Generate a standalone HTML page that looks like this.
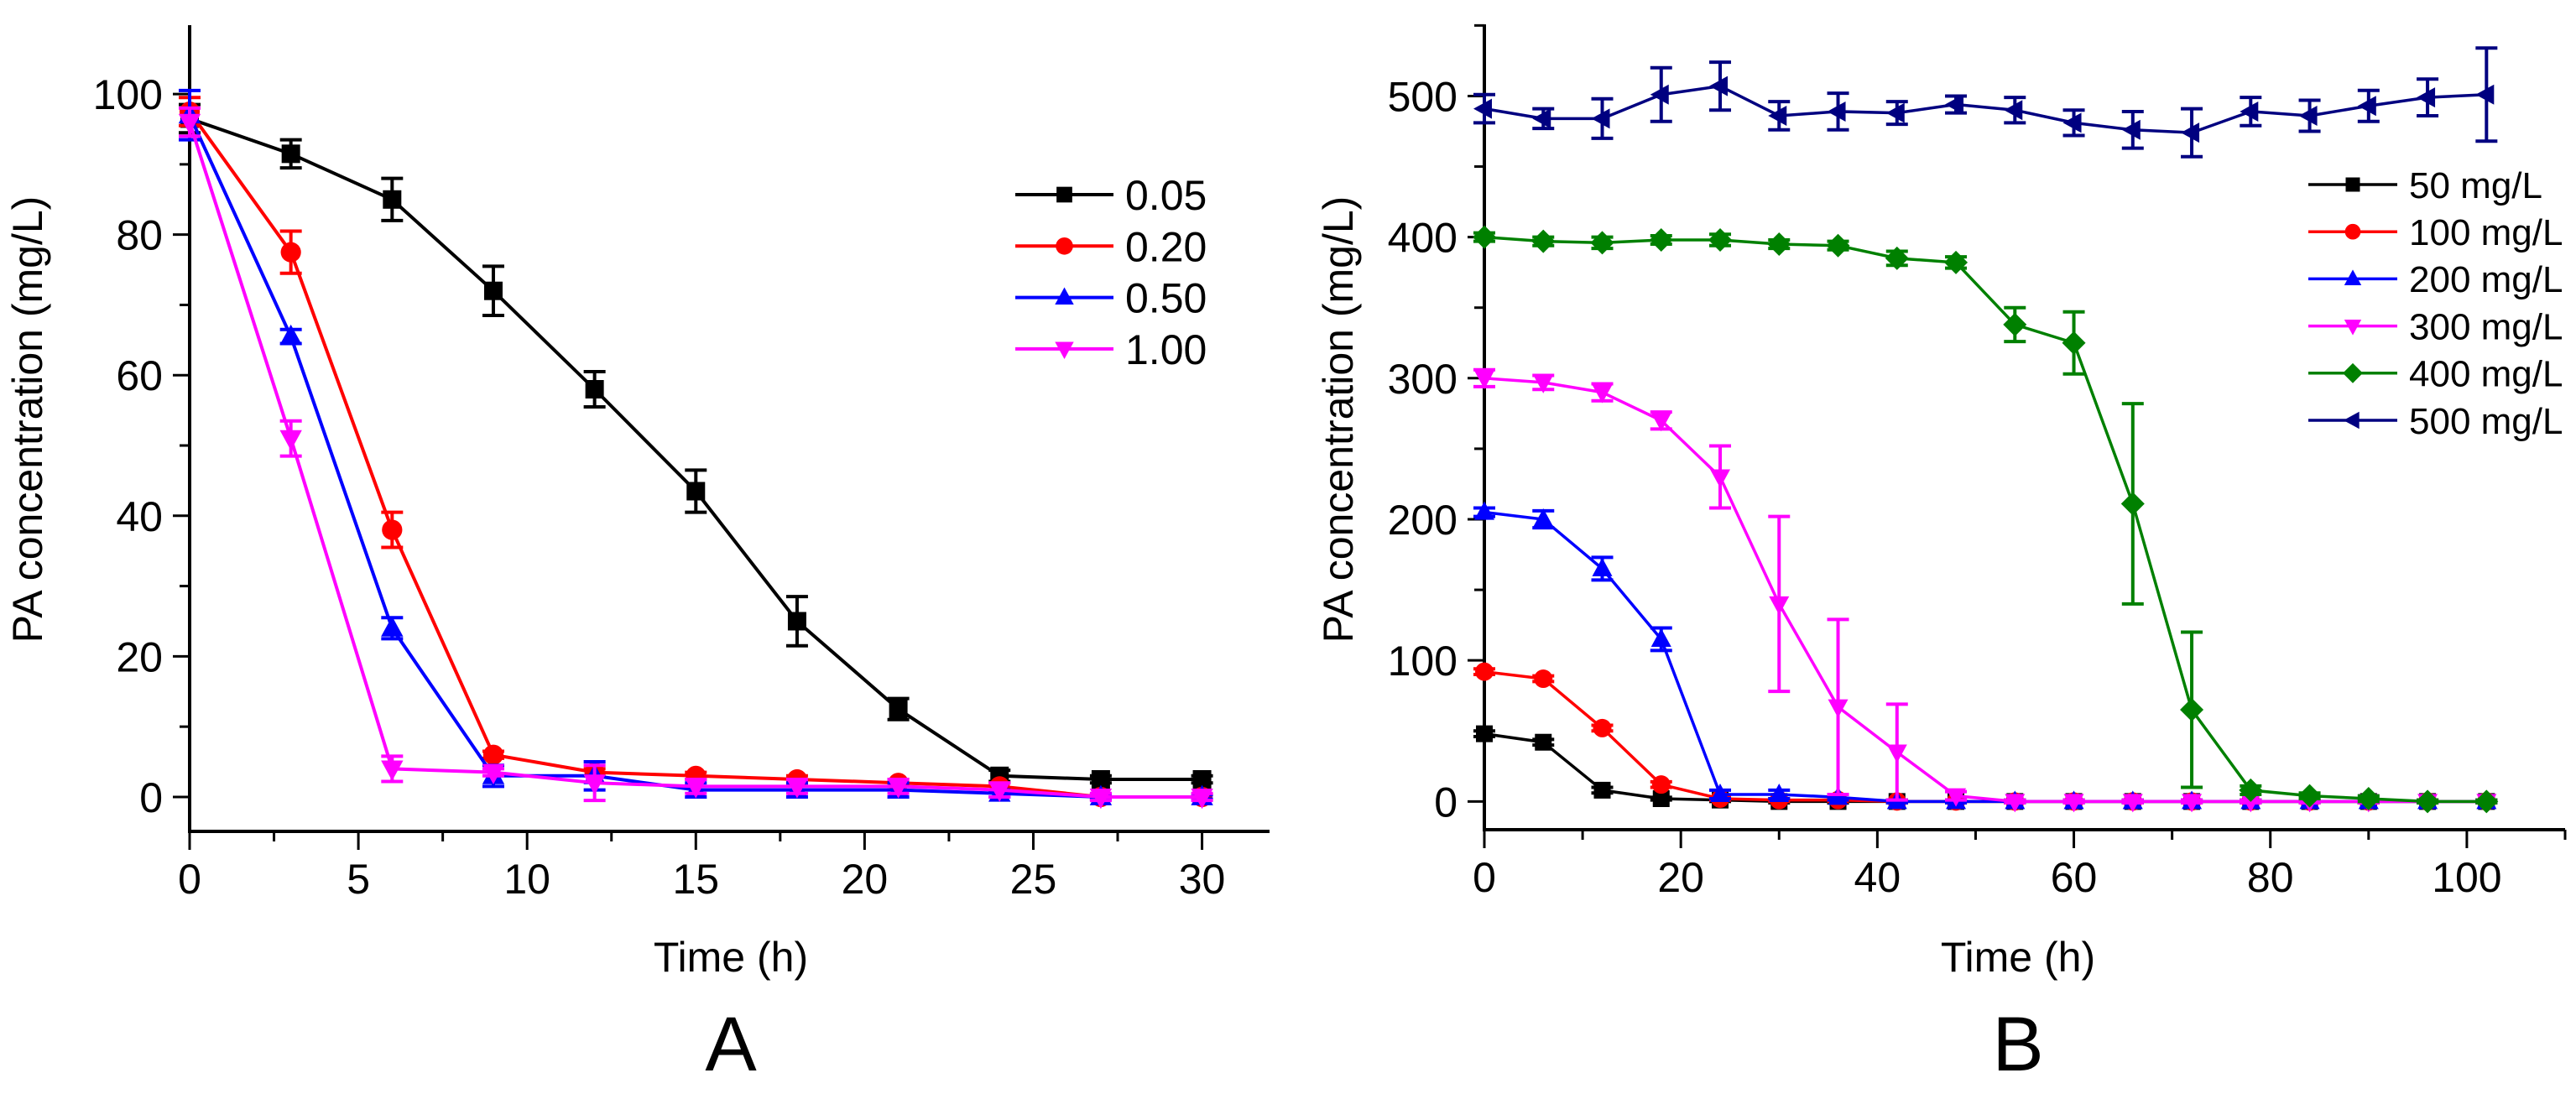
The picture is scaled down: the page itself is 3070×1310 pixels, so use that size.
<!DOCTYPE html>
<html><head><meta charset="utf-8"><style>
html,body{margin:0;padding:0;background:#fff;}
svg{display:block;font-family:"Liberation Sans",Arial,sans-serif;}
</style></head><body>
<svg id="fig" width="3070" height="1310" viewBox="0 0 3070 1310" xmlns="http://www.w3.org/2000/svg">
<g id="chartA"></g>
<g id="chartB"></g>
</svg>
<script>
// ---- Chart A data ----
const timesA = [0,3,6,9,12,15,18,21,24,27,30];
const namesA = ["0.05","0.20","0.50","1.00"];
const valsA005 = [96.5,91.5,85,72,58,43.5,25,12.5,3,2.5,2.5];
const errA005 = [2,2,3,3.5,2.5,3,3.5,1.5,0.8,0.5,0.5];
const valsA020 = [97.5,77.5,38,6,3.5,3,2.5,2,1.5,0,0];
const errA020 = [2,3,2.5,0.5,0.5,0.5,0.5,0.5,0.5,0.3,0.3];
const valsA050 = [97,65.5,24,3,3,1,1,1,0.5,0,0];
const errA050 = [3.5,1,1.5,1.5,2,1,1,1,0.5,0.3,0.3];
const valsA100 = [96,51,4,3.5,2,1.5,1.5,1.5,1,0,0];
const errA100 = [2,2.5,1.8,0.5,2.5,1,1,1,1,0.5,0.5];
const xTicksA = [0,5,10,15,20,25,30];
const yTicksA = [0,20,40,60,80,100];

// ---- Chart B data ----
const timesB = [0,6,12,18,24,30,36,42,48,54,60,66,72,78,84,90,96,102];
const namesB = ["50 mg/L","100 mg/L","200 mg/L","300 mg/L","400 mg/L","500 mg/L"];
const valsB50 = [48,42,8,2,1,0,0,0,0,0,0,0,0,0,0,0,0,0];
const errB50 = [2,2,2,1,1,1,1,1,1,1,1,1,1,1,1,1,1,1];
const valsB100 = [92,87,52,12,2,1,1,0,0,0,0,0,0,0,0,0,0,0];
const errB100 = [2,2,2,2,1,1,1,1,1,1,1,1,1,1,1,1,1,1];
const valsB200 = [205,200,165,115,5,5,3,0,0,0,0,0,0,0,0,0,0,0];
const errB200 = [3,6,8,8,3,3,2,1,1,1,1,1,1,1,1,1,1,1];
const valsB300 = [300,297,290,270,230,140,67,35,4,0,0,0,0,0,0,0,0,0];
const errB300 = [6,5,6,6,22,62,62,34,3,1,1,1,1,1,1,1,1,1];
const valsB400 = [400,397,396,398,398,395,394,385,382,338,325,211,65,8,4,2,0,0];
const errB400 = [3,3,4,3,4,3,3,5,4,12,22,71,55,3,2,2,1,1];
const valsB500 = [491,484,484,501,507,486,489,488,494,490,481,476,474,489,486,493,499,501];
const errB500 = [10,7,14,19,17,10,13,8,6,9,9,13,17,10,11,11,13,33];
const xTicksB = [0,20,40,60,80,100];
const yTicksB = [0,100,200,300,400,500];

const NS = "http://www.w3.org/2000/svg";
function mk(parent, tag, attrs, text){
  const e = document.createElementNS(NS, tag);
  for (const k in attrs) e.setAttribute(k, attrs[k]);
  if (text !== undefined) e.textContent = text;
  parent.appendChild(e);
  return e;
}
function marker(g, type, cx, cy, s, color){
  let e;
  if (type === "square") e = mk(g,"rect",{x:cx-s,y:cy-s,width:2*s,height:2*s,fill:color});
  else if (type === "circle") e = mk(g,"circle",{cx:cx,cy:cy,r:s*1.1,fill:color});
  else if (type === "up") e = mk(g,"polygon",{points:`${cx},${cy-s*1.3} ${cx-s*1.2},${cy+s*0.9} ${cx+s*1.2},${cy+s*0.9}`,fill:color});
  else if (type === "down") e = mk(g,"polygon",{points:`${cx},${cy+s*1.3} ${cx-s*1.2},${cy-s*0.9} ${cx+s*1.2},${cy-s*0.9}`,fill:color});
  else if (type === "diamond") e = mk(g,"polygon",{points:`${cx},${cy-s*1.4} ${cx+s*1.4},${cy} ${cx},${cy+s*1.4} ${cx-s*1.4},${cy}`,fill:color});
  else e = mk(g,"polygon",{points:`${cx-s*1.3},${cy} ${cx+s*0.9},${cy-s*1.2} ${cx+s*0.9},${cy+s*1.2}`,fill:color});
  
  
  return e;
}

function drawChart(root, cfg){
  const X = v => cfg.x0 + (v - cfg.xmin) * (cfg.x1 - cfg.x0) / (cfg.xmax - cfg.xmin);
  const Y = v => cfg.y0 + (v - cfg.ymin) * (cfg.y1 - cfg.y0) / (cfg.ymax - cfg.ymin);
  const ax = mk(root,"g",{});
  
  
  const yl = mk(ax,"line",{x1:cfg.x0,y1:cfg.y0,x2:cfg.x0,y2:cfg.y1,stroke:"#000","stroke-width":4});
  
  
  const xl = mk(ax,"line",{x1:cfg.x0-2,y1:cfg.y0,x2:cfg.x1,y2:cfg.y0,stroke:"#000","stroke-width":4});
  
  
  for (let v = cfg.xmin; v <= cfg.xmax + 1e-9; v += cfg.xminor){
    const major = cfg.xTicks.includes(v);
    mk(ax,"line",{x1:X(v),y1:cfg.y0,x2:X(v),y2:cfg.y0+(major?22:12),stroke:"#000","stroke-width":3});
  }
  cfg.xTicks.forEach(v=>{
    const t = mk(ax,"text",{x:X(v),y:cfg.y0+74,"font-size":cfg.fs,"text-anchor":"middle"},String(v));
    
    
  });
  for (let v = cfg.yTicks[0] - cfg.yminor; v <= cfg.ymax + 1e-9; v += cfg.yminor){
    if (v < cfg.ymin) continue;
    const major = cfg.yTicks.includes(v);
    mk(ax,"line",{x1:cfg.x0,y1:Y(v),x2:cfg.x0-(major?20:12),y2:Y(v),stroke:"#000","stroke-width":3});
  }
  cfg.yTicks.forEach(v=>{
    const t = mk(ax,"text",{x:cfg.x0-32,y:Y(v)+18,"font-size":cfg.fs,"text-anchor":"end"},String(v));
    
    
  });
  const yt = mk(ax,"text",{x:0,y:0,"font-size":cfg.fs,"text-anchor":"middle",transform:`translate(${cfg.ytx},${cfg.yty}) rotate(-90)`},"PA concentration (mg/L)");
  
  
  const xt = mk(ax,"text",{x:cfg.xtx,y:1158,"font-size":cfg.fs,"text-anchor":"middle"},"Time (h)");
  
  
  const pl = mk(ax,"text",{x:cfg.xtx,y:1276,"font-size":92,"text-anchor":"middle"},cfg.panel);
  
  

  cfg.series.forEach((s,i)=>{
    const g = mk(root,"g",{});
    
    
    const pts = cfg.times.map((t,j)=>X(t)+","+Y(s.vals[j])).join(" ");
    const line = mk(g,"polyline",{points:pts,fill:"none",stroke:s.color,"stroke-width":cfg.lw});
    
    
    cfg.times.forEach((t,j)=>{
      const cx = X(t), yt1 = Y(s.vals[j]+s.errs[j]), yb = Y(s.vals[j]-s.errs[j]);
      const eb = mk(g,"path",{d:`M${cx},${yt1}V${yb}M${cx-13},${yt1}H${cx+13}M${cx-13},${yb}H${cx+13}`,stroke:s.color,"stroke-width":4,fill:"none"});
      
      
      marker(g, s.m, cx, Y(s.vals[j]), cfg.ms, s.color);
    });
  });
  const lg = mk(root,"g",{});
  
  
  cfg.series.forEach((s,i)=>{
    const y = cfg.lgY + i*cfg.lgDy;
    const e = mk(lg,"g",{});
    
    
    mk(e,"line",{x1:cfg.lgX,y1:y,x2:cfg.lgX+cfg.lgW,y2:y,stroke:s.color,"stroke-width":cfg.lw});
    marker(e, s.m, cfg.lgX+cfg.lgW/2, y, cfg.ms*0.85, s.color);
    mk(e,"text",{x:cfg.lgX+cfg.lgW+14,y:y+cfg.lgFs*0.36,"font-size":cfg.lgFs},s.name);
  });
}

drawChart(document.getElementById("chartA"), {
  x0:226, x1:1513, xmin:0, xmax:32, y0:991, y1:30, ymin:-4.9, ymax:109.8,
  xTicks:xTicksA, yTicks:yTicksA, xminor:2.5, yminor:10, fs:50, lw:4, ms:11,
  ytx:50, yty:500, xtx:871, panel:"A", times:timesA,
  lgX:1210, lgW:117, lgY:232, lgDy:61.3, lgFs:50,
  series:[
    {name:namesA[0],vals:valsA005,errs:errA005,color:"#000000",m:"square"},
    {name:namesA[1],vals:valsA020,errs:errA020,color:"#ff0000",m:"circle"},
    {name:namesA[2],vals:valsA050,errs:errA050,color:"#0000ff",m:"up"},
    {name:namesA[3],vals:valsA100,errs:errA100,color:"#ff00ff",m:"down"}
  ]
});
drawChart(document.getElementById("chartB"), {
  x0:1769, x1:3057, xmin:0, xmax:110, y0:989, y1:29, ymin:-20, ymax:550.8,
  xTicks:xTicksB, yTicks:yTicksB, xminor:10, yminor:50, fs:50, lw:3.5, ms:10,
  ytx:1612, yty:500, xtx:2405, panel:"B", times:timesB,
  lgX:2751, lgW:106, lgY:220, lgDy:56.2, lgFs:44,
  series:[
    {name:namesB[0],vals:valsB50,errs:errB50,color:"#000000",m:"square"},
    {name:namesB[1],vals:valsB100,errs:errB100,color:"#ff0000",m:"circle"},
    {name:namesB[2],vals:valsB200,errs:errB200,color:"#0000ff",m:"up"},
    {name:namesB[3],vals:valsB300,errs:errB300,color:"#ff00ff",m:"down"},
    {name:namesB[4],vals:valsB400,errs:errB400,color:"#008000",m:"diamond"},
    {name:namesB[5],vals:valsB500,errs:errB500,color:"#000080",m:"left"}
  ]
});
</script>
</body></html>
